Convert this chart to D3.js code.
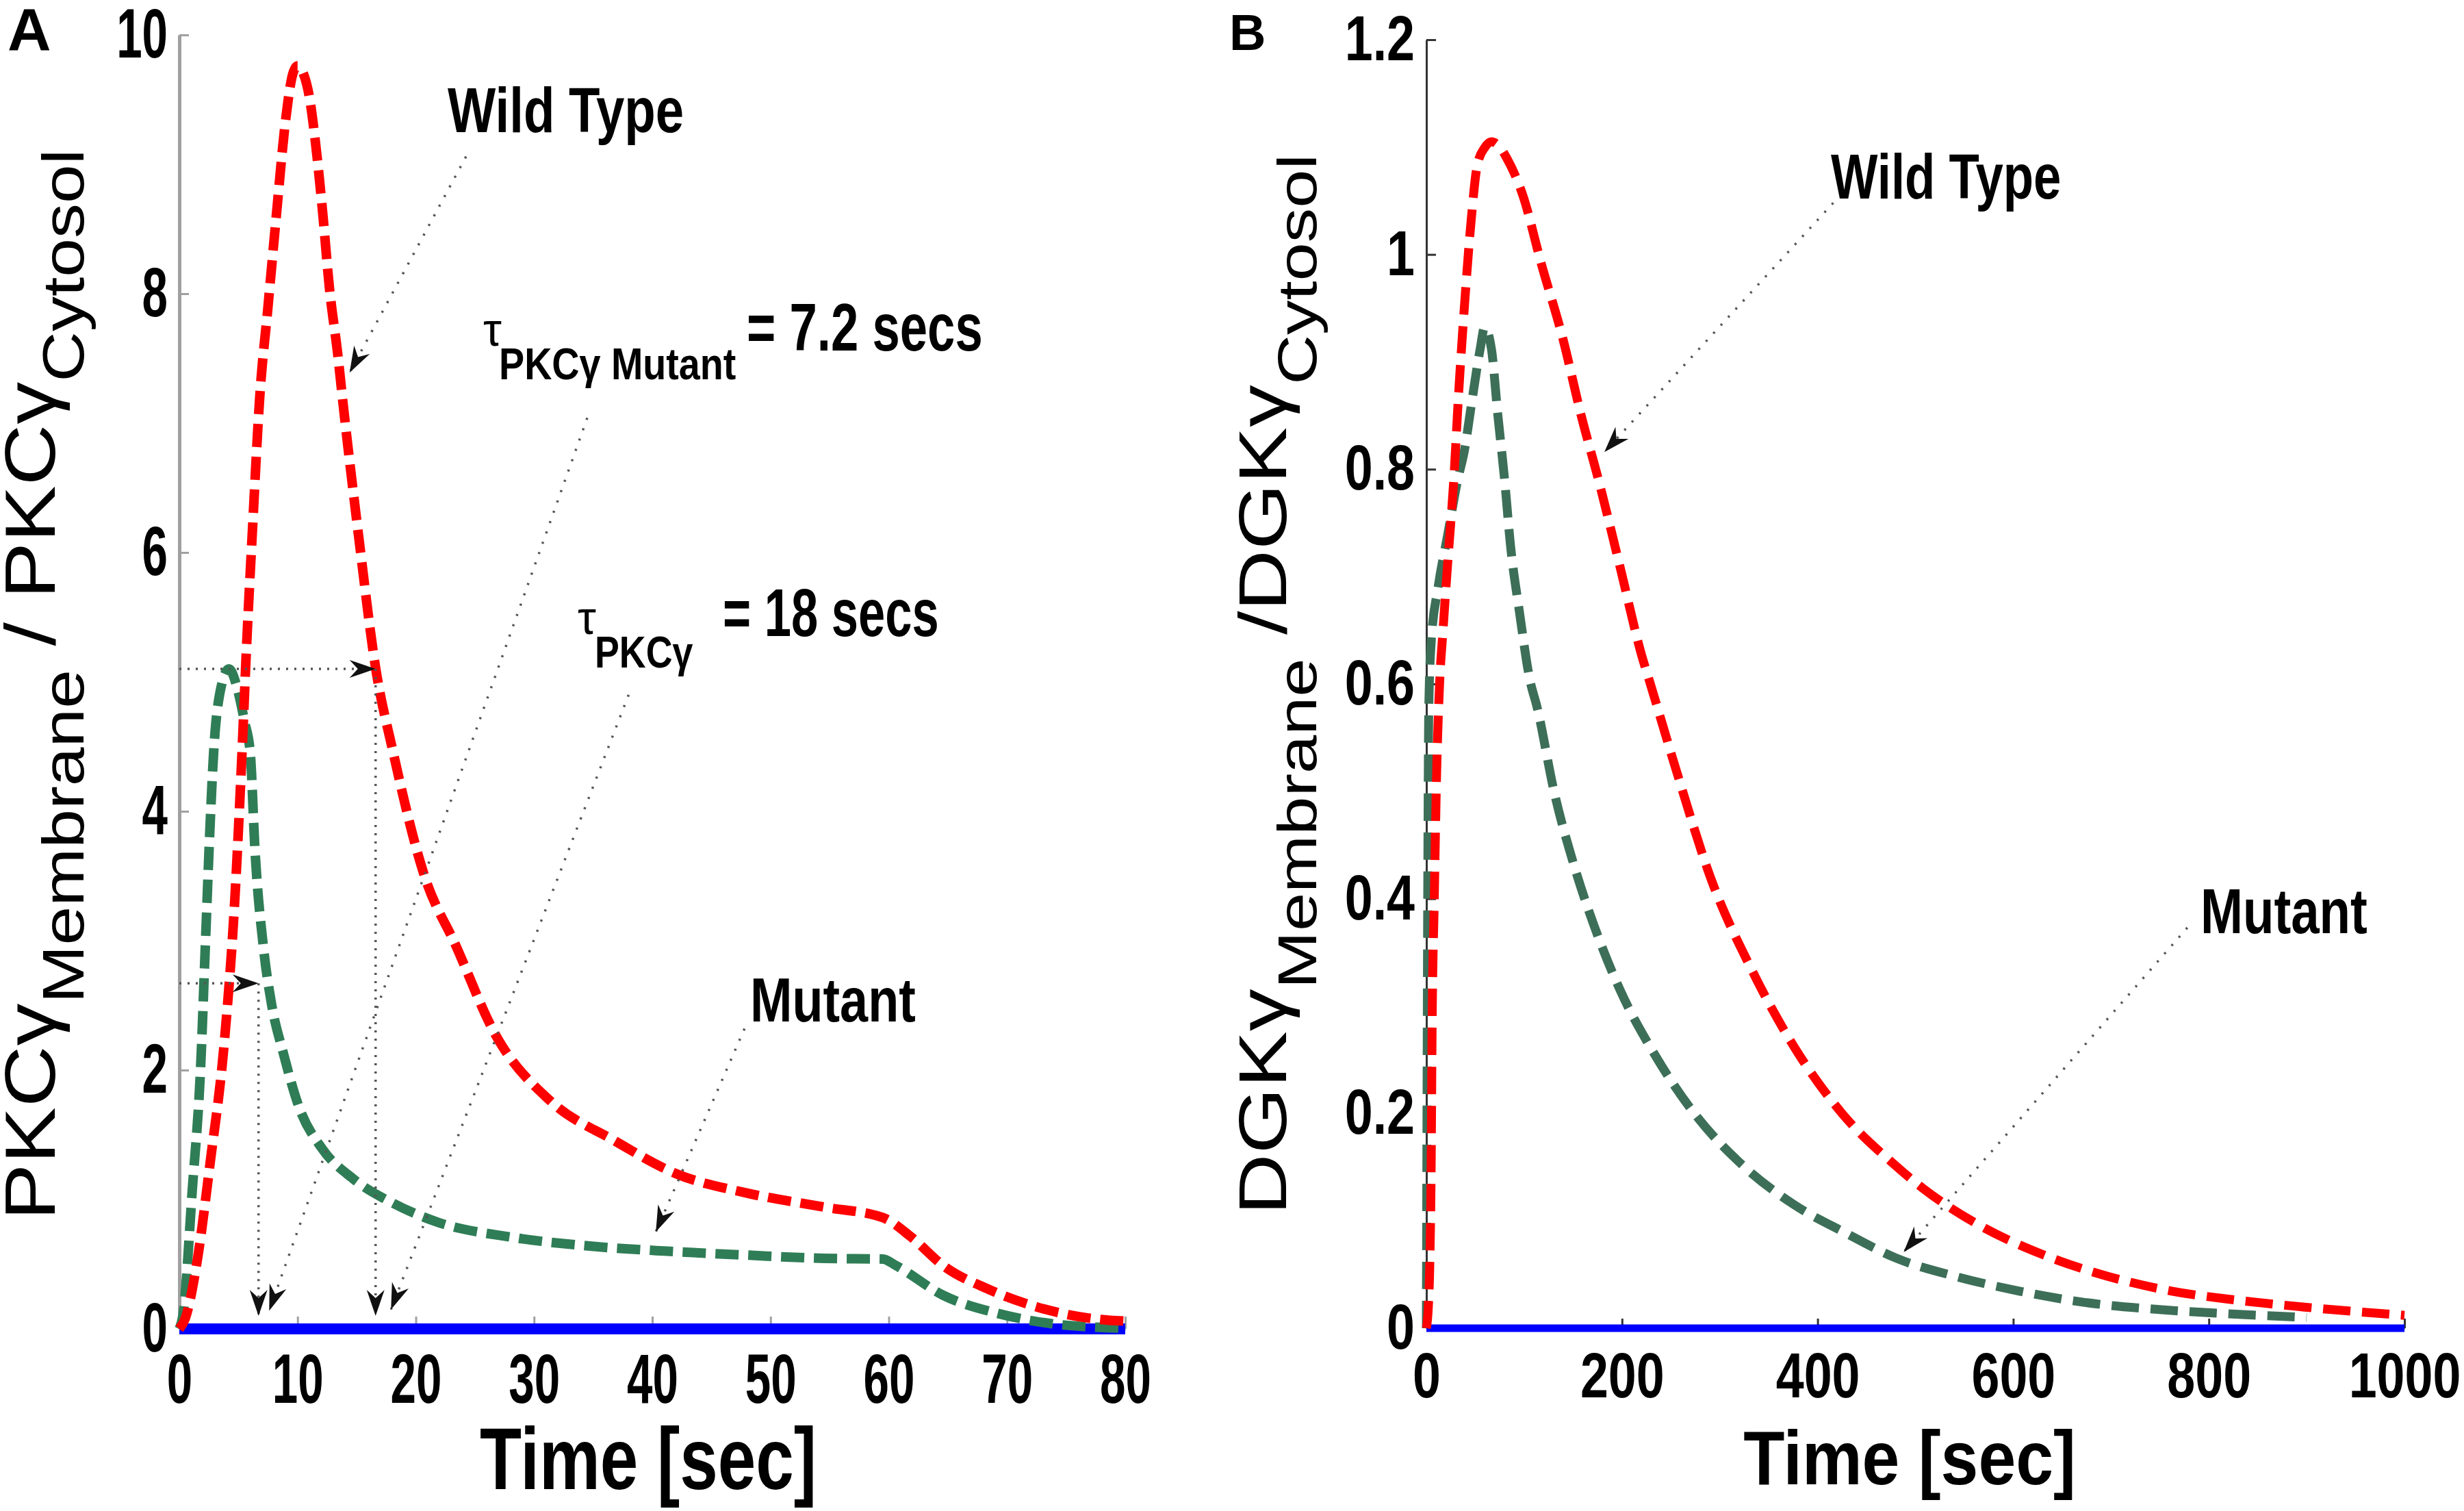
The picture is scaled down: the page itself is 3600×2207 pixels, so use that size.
<!DOCTYPE html>
<html>
<head>
<meta charset="utf-8">
<script src="https://cdn.jsdelivr.net/npm/d3@7/dist/d3.min.js"></script>
<style>
  html, body { margin: 0; padding: 0; background: #fff; }
</style>
</head>
<body>
<svg id="fig" width="3600" height="2207"></svg>
<script>
"use strict";

var FONT = "'Liberation Sans', Arial, Helvetica, sans-serif";

// ---- panel A : PKCgamma, 0-80 sec ----
var pkcTicksX = [0, 10, 20, 30, 40, 50, 60, 70, 80];
var pkcTicksY = [0, 2, 4, 6, 8, 10];
var pkcWildT = [0, 0.5, 1.5, 2.6, 3.8, 4.7, 5.3, 5.7, 6.2, 6.8, 7.5, 8.2, 9.0, 9.6, 10.0, 10.5, 11.0, 11.5, 12.1, 12.7, 13.4, 13.8, 15.2, 16.6, 18.1, 20.7, 23.4, 26.7, 31.4, 36.7, 42, 48, 54.6, 59.5, 61.9, 64.6, 68.6, 72.5, 77.2, 80];
var pkcWildV = [0, 0.08, 0.52, 1.28, 2.21, 3.33, 4.45, 5.3, 6.2, 7.2, 7.9, 8.6, 9.35, 9.7, 9.76, 9.7, 9.52, 9.18, 8.65, 8.04, 7.53, 7.19, 6.1, 5.11, 4.45, 3.51, 2.96, 2.28, 1.76, 1.46, 1.20, 1.05, 0.94, 0.86, 0.71, 0.49, 0.30, 0.17, 0.08, 0.06];
var pkcMutT = [0, 0.3, 1.1, 1.8, 2.2, 2.6, 2.9, 3.4, 4.2, 4.9, 5.5, 6.0, 6.4, 7.1, 7.8, 8.8, 10.1, 12.1, 14.7, 18.1, 22, 28, 34.7, 41.3, 48, 54.6, 59.5, 60.6, 64.6, 69.2, 73.8, 77, 80];
var pkcMutV = [0, 0.1, 1.08, 2.02, 2.96, 3.89, 4.45, 4.9, 5.1, 4.95, 4.7, 4.45, 3.70, 2.96, 2.51, 2.13, 1.72, 1.39, 1.16, 0.97, 0.82, 0.71, 0.64, 0.60, 0.57, 0.545, 0.54, 0.49, 0.26, 0.12, 0.04, 0.015, 0.005];
var pkcBaseT = [0, 80];
var pkcBaseV = [0, 0];

// ---- panel B : DGKgamma, 0-1000 sec ----
var dgkTicksX = [0, 200, 400, 600, 800, 1000];
var dgkTicksY = [0, 0.2, 0.4, 0.6, 0.8, 1, 1.2];
var dgkWildT = [0, 2, 3.5, 4.9, 5.8, 8, 10.5, 13.5, 17, 21.5, 28, 33, 39, 46, 52, 60, 66.5, 75, 82, 99, 117, 140, 158, 176, 198, 220, 229, 256, 292, 332, 376, 425, 479, 508, 562, 629, 696, 763, 830, 896, 1000];
var dgkWildV = [0, 0.02, 0.06, 0.152, 0.274, 0.396, 0.518, 0.6, 0.65, 0.709, 0.79, 0.871, 0.953, 1.034, 1.083, 1.1, 1.105, 1.1, 1.09, 1.054, 0.993, 0.92, 0.851, 0.79, 0.709, 0.627, 0.60, 0.518, 0.416, 0.335, 0.262, 0.20, 0.152, 0.130, 0.0976, 0.069, 0.0485, 0.0344, 0.026, 0.0198, 0.012];
var dgkMutT = [0, 0.8, 1.6, 2.5, 5, 12, 22, 32, 39, 46, 55, 59.5, 66.5, 73, 80, 86, 95, 106, 113, 131, 149, 171, 198, 234, 274, 323, 376, 428, 481, 540, 607, 673, 740, 808, 852, 900];
var dgkMutV = [0, 0.25, 0.45, 0.58, 0.64, 0.69, 0.74, 0.79, 0.818, 0.86, 0.912, 0.932, 0.912, 0.851, 0.79, 0.729, 0.668, 0.603, 0.579, 0.498, 0.437, 0.376, 0.315, 0.254, 0.20, 0.152, 0.115, 0.089, 0.065, 0.0485, 0.0344, 0.024, 0.018, 0.014, 0.012, 0.01];
var dgkBaseT = [0, 1000];
var dgkBaseV = [0, 0];

var RED = "#ff0000", BLUE = "#0000ff";

var svg = d3.select("#fig");
svg.append("rect").attr("width", 3600).attr("height", 2207).attr("fill", "#fff");

var defs = svg.append("defs");
defs.append("marker")
	.attr("id", "head")
	.attr("viewBox", "-42 -18 46 36")
	.attr("markerUnits", "userSpaceOnUse")
	.attr("markerWidth", 46)
	.attr("markerHeight", 36)
	.attr("refX", 0).attr("refY", 0)
	.attr("orient", "auto")
	.append("path")
	.attr("d", "M0,0 L-38,-13 L-26,0 L-38,13 Z")
	.attr("fill", "#111");

function zip(ts, vs) {
	return ts.map(function(t, i){ return [t, vs[i]]; });
}

// squeezed text, like the narrow glyphs of the original
function label(x, y, txt, fs, sx, weight, anchor) {
	return svg.append("text")
		.attr("transform", "translate(" + x + "," + y + ") scale(" + sx + ",1)")
		.attr("font-family", FONT)
		.attr("font-size", fs)
		.attr("font-weight", weight || "bold")
		.attr("text-anchor", anchor || "start")
		.attr("fill", "#000")
		.text(txt);
}

function yLabel(x, y, parts, mainFs, subFs, shift, sx) {
	var t = svg.append("text")
		.attr("transform", "translate(" + x + "," + y + ") scale(" + sx + ",1) rotate(-90)")
		.attr("font-family", FONT)
		.attr("text-anchor", "middle")
		.attr("fill", "#000");
	var lvl = 0;
	parts.forEach(function(p){
		var want = p.sub ? shift : 0;
		t.append("tspan")
			.attr("font-size", p.sub ? subFs : mainFs)
			.attr("dy", want - lvl)
			.text(p.s);
		lvl = want;
	});
}

function panel(cfg) {
	var x = cfg.x, y = cfg.y;
	var g = svg.append("g");
	var fmt = d3.format("~g");

	var ax = g.append("g")
		.attr("transform", "translate(0," + y(0) + ")")
		.call(d3.axisBottom(x).tickValues(cfg.ticksX).tickFormat(fmt).tickSize(-cfg.tickX).tickSizeOuter(0).tickPadding(36));
	var ay = g.append("g")
		.attr("transform", "translate(" + x(0) + ",0)")
		.call(d3.axisLeft(y).tickValues(cfg.ticksY).tickFormat(fmt).tickSize(-14).tickSizeOuter(0).tickPadding(17));

	[ax, ay].forEach(function(a){
		a.attr("font-family", FONT).attr("font-size", cfg.tickFs);
		a.select(".domain").attr("stroke", cfg.axisColor).attr("stroke-width", cfg.axisW);
		a.selectAll(".tick line").attr("stroke", cfg.axisColor).attr("stroke-width", 3);
		a.selectAll(".tick text")
			.attr("fill", "#000")
			.attr("font-weight", "bold")
			.attr("x", function(){ return (+d3.select(this).attr("x") || 0) / cfg.tickSx; })
			.attr("transform", "scale(" + cfg.tickSx + ",1)");
	});

	var line = d3.line()
		.x(function(d){ return x(d[0]); })
		.y(function(d){ return y(d[1]); })
		.curve(d3.curveMonotoneX);

	g.append("path").datum(zip(cfg.baseT, cfg.baseV))
		.attr("d", line).attr("fill", "none")
		.attr("stroke", BLUE).attr("stroke-width", cfg.baseW);
	g.append("path").datum(zip(cfg.mutT, cfg.mutV))
		.attr("d", line).attr("fill", "none")
		.attr("stroke", cfg.green).attr("stroke-width", cfg.lineW)
		.attr("stroke-dasharray", cfg.dash);
	g.append("path").datum(zip(cfg.wildT, cfg.wildV))
		.attr("d", line).attr("fill", "none")
		.attr("stroke", RED).attr("stroke-width", cfg.lineW)
		.attr("stroke-dasharray", cfg.dash);

	// dotted annotation arrows, given in data units
	cfg.arrows.forEach(function(a){
		g.append("line")
			.attr("x1", x(a[0])).attr("y1", y(a[1]))
			.attr("x2", x(a[2])).attr("y2", y(a[3]))
			.attr("stroke", "#555")
			.attr("stroke-width", 3.5)
			.attr("stroke-dasharray", a[4] || "3,13")
			.attr("marker-end", "url(#head)");
	});
}

panel({
	x: d3.scaleLinear().domain([0, 80]).range([262, 1644]),
	y: d3.scaleLinear().domain([0, 10]).range([1941, 51]),
	ticksX: pkcTicksX, ticksY: pkcTicksY,
	tickX: 18, tickFs: 102, tickSx: 0.66,
	axisColor: "#a0a0a0", axisW: 5,
	wildT: pkcWildT, wildV: pkcWildV,
	mutT: pkcMutT, mutV: pkcMutV,
	baseT: pkcBaseT, baseV: pkcBaseV,
	green: "#2f7d56", lineW: 14, baseW: 16, dash: "34,14",
	arrows: [
		[24.25, 9.06, 14.4, 7.39],
		[34.5, 7.04, 7.6, 0.14],
		[38.0, 4.90, 17.9, 0.15],
		[47.8, 2.32, 40.3, 0.75],
		[0, 5.1, 16.6, 5.1, "3,9"],
		[16.6, 5.1, 16.6, 0.1, "3,9"],
		[0, 2.67, 6.7, 2.67, "3,9"],
		[6.7, 2.67, 6.7, 0.1, "3,9"]
	]
});

panel({
	x: d3.scaleLinear().domain([0, 1000]).range([2084, 3513]),
	y: d3.scaleLinear().domain([0, 1.2]).range([1940, 58]),
	ticksX: dgkTicksX, ticksY: dgkTicksY,
	tickX: 14, tickFs: 92, tickSx: 0.8,
	axisColor: "#333", axisW: 3,
	wildT: dgkWildT, wildV: dgkWildV,
	mutT: dgkMutT, mutV: dgkMutV,
	baseT: dgkBaseT, baseV: dgkBaseV,
	green: "#3d6f58", lineW: 13, baseW: 11, dash: "40,17",
	arrows: [
		[416, 1.048, 182, 0.816],
		[778, 0.373, 488, 0.071]
	]
});

// panel letters
label(11, 73, "A", 88, 1);
label(1796, 73, "B", 74, 1);

// axis titles
label(947, 2175, "Time [sec]", 128, 0.78, "bold", "middle");
label(2790, 2168, "Time [sec]", 112, 0.88, "bold", "middle");

yLabel(80, 1000, [
	{s: "PKC\u03b3"}, {s: "Membrane", sub: true}, {s: " / PKC\u03b3"}, {s: "Cytosol", sub: true}
], 124, 102, 50, 0.83);
yLabel(1879, 1000, [
	{s: "DGK\u03b3"}, {s: "Membrane", sub: true}, {s: " /DGK\u03b3"}, {s: "Cytosol", sub: true}
], 124, 101, 56, 0.79);

// annotations, panel A
label(654, 193, "Wild Type", 93, 0.8);
label(706, 505, "\u03c4", 68, 1, "normal");
label(729, 554, "PKC\u03b3 Mutant", 64, 0.87);
label(1091, 512, "= 7.2 secs", 98, 0.74);
label(844, 926, "\u03c4", 68, 1, "normal");
label(869, 975, "PKC\u03b3", 64, 0.84);
label(1056, 929, "= 18 secs", 98, 0.72);
label(1096, 1492, "Mutant", 90, 0.82);

// annotations, panel B
label(2675, 290, "Wild Type", 93, 0.78);
label(3215, 1363, "Mutant", 93, 0.8);
</script>
</body>
</html>
